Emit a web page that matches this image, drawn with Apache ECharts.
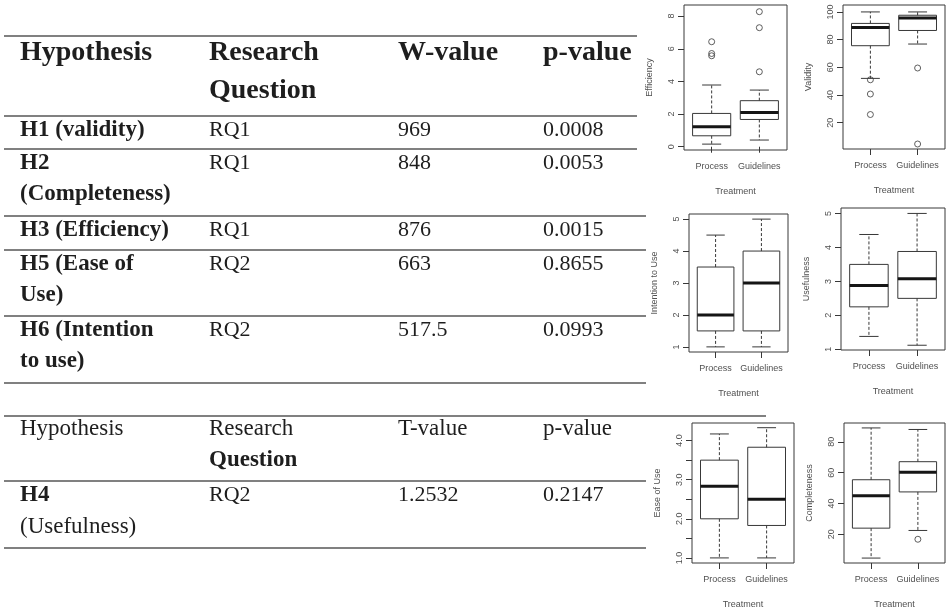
<!DOCTYPE html>
<html>
<head>
<meta charset="utf-8">
<script src="https://cdn.jsdelivr.net/npm/echarts@6/dist/echarts.min.js"></script>
<style>
  html, body { margin: 0; padding: 0; background: #fff; }
  #main { width: 946px; height: 610px; }
</style>
</head>
<body>
<div id="main"></div>
<script>
// groups on every x axis
const treatments = ['Process', 'Guidelines']

// boxplots: [min whisker, Q1, median, Q3, max whisker] per treatment, outliers apart
const efficiencyBox = [[0.16, 0.67, 1.22, 2.04, 3.78], [0.41, 1.67, 2.1, 2.82, 3.47]]
const efficiencyOut = [[5.57, 5.71, 6.43], [4.59, 7.29, 8.27]]
const validityBox = [[52, 75.6, 88.8, 91.7, 100], [76.8, 86.6, 95.6, 97.6, 100]]
const validityOut = [[51, 40.7, 25.9], [59.5, 4.6]]
const intentionBox = [[1, 1.5, 2, 3.5, 4.5], [1, 1.5, 3, 4, 5]]
const intentionOut = [[], []]
const usefulnessBox = [[1.38, 2.25, 2.88, 3.5, 4.38], [1.12, 2.5, 3.08, 3.88, 5]]
const usefulnessOut = [[], []]
const easeBox = [[1, 2, 2.83, 3.5, 4.17], [1, 1.83, 2.5, 3.83, 4.33]]
const easeOut = [[], []]
const completenessBox = [[4.6, 24, 45, 55.4, 89], [22.5, 47.5, 60.2, 67.1, 88]]
const completenessOut = [[], [16.8]]

// y ticks and labelled ticks
const efficiencyTicks = [0, 2, 4, 6, 8]
const validityTicks = [20, 40, 60, 80, 100]
const intentionTicks = [1, 2, 3, 4, 5]
const usefulnessTicks = [1, 2, 3, 4, 5]
const easeTicks = [1, 1.5, 2, 2.5, 3, 3.5, 4]
const easeLabels = [1, 2, 3, 4]
const completenessTicks = [20, 40, 60, 80]

// Wilcoxon table
const wHeader = ['Hypothesis', 'Research\nQuestion', 'W-value', 'p-value']
const wHypothesis = ['H1 (validity)', 'H2\n(Completeness)', 'H3 (Efficiency)', 'H5 (Ease of\nUse)', 'H6 (Intention\nto use)']
const wQuestion = ['RQ1', 'RQ1', 'RQ1', 'RQ2', 'RQ2']
const wValue = ['969', '848', '876', '663', '517.5']
const wPValue = ['0.0008', '0.0053', '0.0015', '0.8655', '0.0993']

// t-test table
const tHeader = ['Hypothesis', 'Research\nQuestion', 'T-value', 'p-value']
const tHypothesis = ['H4\n(Usefulness)']
const tQuestion = ['RQ2']
const tValue = ['1.2532']
const tPValue = ['0.2147']

const panels = [
  { name: 'Efficiency', box: efficiencyBox, out: efficiencyOut, ticks: efficiencyTicks, labels: efficiencyTicks, digits: 0, min: -0.2, max: 8.68, grid: { left: 684, top: 5, width: 103, height: 145 } },
  { name: 'Validity', box: validityBox, out: validityOut, ticks: validityTicks, labels: validityTicks, digits: 0, min: 1, max: 105, grid: { left: 843, top: 5, width: 102, height: 144 } },
  { name: 'Intention to Use', box: intentionBox, out: intentionOut, ticks: intentionTicks, labels: intentionTicks, digits: 0, min: 0.84, max: 5.16, grid: { left: 689, top: 214, width: 99, height: 138 } },
  { name: 'Usefulness', box: usefulnessBox, out: usefulnessOut, ticks: usefulnessTicks, labels: usefulnessTicks, digits: 0, min: 0.98, max: 5.16, grid: { left: 841, top: 208, width: 104, height: 142 } },
  { name: 'Ease of Use', box: easeBox, out: easeOut, ticks: easeTicks, labels: easeLabels, digits: 1, min: 0.87, max: 4.45, grid: { left: 692, top: 423, width: 102, height: 142 } },
  { name: 'Completeness', box: completenessBox, out: completenessOut, ticks: completenessTicks, labels: completenessTicks, digits: 0, min: 1.4, max: 92.2, grid: { left: 844, top: 423, width: 101, height: 142 } },
]

const lineColor = '#383838'
const textColor = '#505050'
const axisFont = 'Liberation Sans'

// R style box: dashed whiskers, short caps, thick median
function renderBox(params, api) {
  const x = api.value(0)
  const pt = i => api.coord([x, api.value(i)])
  const lo = pt(1)
  const q1 = pt(2)
  const md = pt(3)
  const q3 = pt(4)
  const hi = pt(5)
  const xl = api.coord([x - 0.4, 0])[0]
  const xr = api.coord([x + 0.4, 0])[0]
  const cl = api.coord([x - 0.2, 0])[0]
  const cr = api.coord([x + 0.2, 0])[0]
  const cx = lo[0]
  const solid = { stroke: lineColor, lineWidth: 1 }
  const dashed = { stroke: lineColor, lineWidth: 1, lineDash: [3, 2] }
  return {
    type: 'group',
    children: [
      { type: 'line', shape: { x1: cx, y1: q3[1], x2: cx, y2: hi[1] }, style: dashed },
      { type: 'line', shape: { x1: cx, y1: q1[1], x2: cx, y2: lo[1] }, style: dashed },
      { type: 'line', shape: { x1: cl, y1: hi[1], x2: cr, y2: hi[1] }, style: solid },
      { type: 'line', shape: { x1: cl, y1: lo[1], x2: cr, y2: lo[1] }, style: solid },
      { type: 'rect', shape: { x: xl, y: q3[1], width: xr - xl, height: q1[1] - q3[1] }, style: { stroke: lineColor, lineWidth: 1, fill: 'rgba(0,0,0,0)' } },
      { type: 'line', shape: { x1: xl, y1: md[1], x2: xr, y2: md[1] }, style: { stroke: '#151515', lineWidth: 3 } },
    ],
  }
}

const grid = []
const xAxis = []
const yAxis = []
const series = []
panels.forEach((p, i) => {
  grid.push({ ...p.grid, show: true, borderColor: lineColor, borderWidth: 1, backgroundColor: 'transparent' })
  xAxis.push({
    type: 'value',
    gridIndex: i,
    min: 0.42,
    max: 2.58,
    axisLine: { show: false },
    splitLine: { show: false },
    axisTick: { show: true, customValues: [1, 2], length: 6, lineStyle: { color: lineColor } },
    axisLabel: {
      customValues: [1, 2],
      formatter: v => treatments[Math.round(v) - 1],
      fontSize: 9,
      fontFamily: axisFont,
      color: textColor,
      margin: 12,
    },
    name: 'Treatment',
    nameLocation: 'middle',
    nameGap: 37,
    nameTextStyle: { fontSize: 9, fontFamily: axisFont, color: textColor },
  })
  yAxis.push({
    type: 'value',
    gridIndex: i,
    min: p.min,
    max: p.max,
    axisLine: { show: false },
    splitLine: { show: false },
    axisTick: { show: true, customValues: p.ticks, length: 6, lineStyle: { color: lineColor } },
    axisLabel: {
      customValues: p.labels,
      formatter: v => v.toFixed(p.digits),
      rotate: 90,
      fontSize: 9,
      fontFamily: axisFont,
      color: textColor,
      margin: 8,
    },
    name: p.name,
    nameLocation: 'middle',
    nameGap: 30,
    nameTextStyle: { fontSize: 9, fontFamily: axisFont, color: textColor },
  })
  series.push({
    type: 'custom',
    xAxisIndex: i,
    yAxisIndex: i,
    clip: false,
    renderItem: renderBox,
    encode: { x: 0, y: [1, 2, 3, 4, 5] },
    data: p.box.map((b, k) => [k + 1, ...b]),
    silent: true,
  })
  const outliers = []
  p.out.forEach((vals, k) => vals.forEach(v => outliers.push([k + 1, v])))
  series.push({
    type: 'scatter',
    xAxisIndex: i,
    yAxisIndex: i,
    symbol: 'circle',
    symbolSize: 6,
    itemStyle: { color: 'rgba(0,0,0,0)', borderColor: lineColor, borderWidth: 1 },
    data: outliers,
    silent: true,
  })
})

// table drawing
const colX = [20, 209, 398, 543]
const boldLines = ['Question', 'H4']
function rule(x1, x2, y) {
  return { type: 'line', shape: { x1, y1: y, x2, y2: y }, style: { stroke: '#808080', lineWidth: 2 } }
}
function cell(x, baselines, text, size, bold) {
  return text.split('\n').map((line, k) => {
    const isBold = typeof bold === 'function' ? bold(line) : bold
    return {
      type: 'text',
      x,
      y: baselines[k] - 0.34 * size,
      style: {
        text: line,
        fontSize: size,
        fontWeight: isBold ? 'bold' : 'normal',
        fontFamily: 'Liberation Serif',
        fill: '#1e1e1e',
        align: 'left',
        verticalAlign: 'middle',
        textAlign: 'left',
        textVerticalAlign: 'middle',
      },
    }
  })
}

const graphics = []
// table 1 rules
;[[36, 637], [116, 637], [149, 637], [216, 646], [250, 646], [316, 646], [383, 646]].forEach(([y, x2]) => graphics.push(rule(4, x2, y)))
wHeader.forEach((h, c) => graphics.push(...cell(colX[c], [62, 100], h, 28, true)))
const wRowTops = [116, 149, 216, 250, 316]
wRowTops.forEach((top, r) => {
  const bl = [top + 22, top + 53]
  graphics.push(...cell(colX[0], bl, wHypothesis[r], 23, true))
  graphics.push(...cell(colX[1], bl, wQuestion[r], 22, false))
  graphics.push(...cell(colX[2], bl, wValue[r], 22, false))
  graphics.push(...cell(colX[3], bl, wPValue[r], 22, false))
})

// table 2 rules
graphics.push(rule(4, 766, 416), rule(4, 646, 481), rule(4, 646, 548))
tHeader.forEach((h, c) => graphics.push(...cell(colX[c], [437, 468], h, 23, l => boldLines.includes(l))))
;[481].forEach((top, r) => {
  const bl = [top + 22, top + 54]
  graphics.push(...cell(colX[0], bl, tHypothesis[r], 23, l => boldLines.includes(l)))
  graphics.push(...cell(colX[1], bl, tQuestion[r], 22, false))
  graphics.push(...cell(colX[2], bl, tValue[r], 22, false))
  graphics.push(...cell(colX[3], bl, tPValue[r], 22, false))
})

const chart = echarts.init(document.getElementById('main'), null, { renderer: 'canvas' })
chart.setOption({
  animation: false,
  backgroundColor: '#fff',
  grid,
  xAxis,
  yAxis,
  series,
  graphic: { elements: graphics },
})
</script>
</body>
</html>
